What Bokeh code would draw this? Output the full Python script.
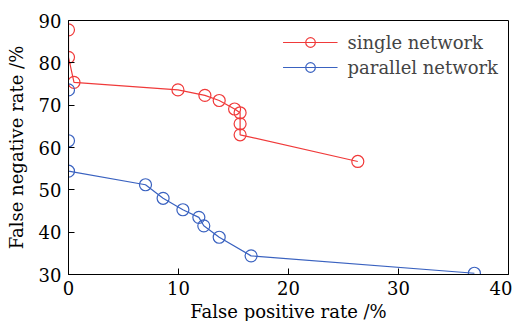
from bokeh.plotting import figure
from bokeh.models import Range1d, FixedTicker, Legend, LegendItem
from bokeh.embed import file_html
from bokeh.resources import INLINE

single_fpr = [0.0, 0.0, 0.5, 9.95, 12.4, 13.7, 15.1, 15.6, 15.6, 15.6, 26.3]
single_fnr = [87.8, 81.3, 75.4, 73.6, 72.3, 71.1, 69.1, 68.2, 65.6, 63.0, 56.7]
parallel_fpr = [0.0, 0.0, 0.0, 7.0, 8.6, 10.4, 11.85, 12.3, 13.7, 16.6, 36.9]
parallel_fnr = [73.6, 61.6, 54.4, 51.2, 48.0, 45.3, 43.5, 41.5, 38.8, 34.4, 30.3]
x_ticks = [0, 10, 20, 30, 40]
y_ticks = [30, 40, 50, 60, 70, 80, 90]

FONT = "DejaVu Serif"
FS = "18px"
RED = "#f03a3a"
BLUE = "#3a62c0"

p = figure(frame_width=440, frame_height=254, output_backend="svg", toolbar_location=None,
           x_range=Range1d(x_ticks[0], x_ticks[-1]), y_range=Range1d(y_ticks[0], y_ticks[-1]),
           min_border_left=68, min_border_right=4, min_border_top=20, min_border_bottom=10)
p.xgrid.visible = False
p.ygrid.visible = False
p.outline_line_color = "black"
p.outline_line_width = 1
p.background_fill_color = "white"
p.border_fill_color = "white"

for ax, ticks in ((p.xaxis, x_ticks), (p.yaxis, y_ticks)):
    ax.ticker = FixedTicker(ticks=ticks)
    ax.major_tick_in = 6
    ax.major_tick_out = 0
    ax.minor_tick_line_color = None
    ax.axis_line_color = "black"
    ax.major_tick_line_color = "black"
    ax.major_label_text_font = FONT
    ax.major_label_text_font_size = FS
    ax.major_label_text_color = "black"
    ax.axis_label_text_font = FONT
    ax.axis_label_text_font_size = FS
    ax.axis_label_text_font_style = "normal"
    ax.axis_label_text_color = "black"

p.xaxis.axis_label = "False positive rate /%"
p.yaxis.axis_label = "False negative rate /%"
p.xaxis.major_label_standoff = 6
p.yaxis.major_label_standoff = 7
p.xaxis.axis_label_standoff = 3
p.yaxis.axis_label_standoff = 9

l1 = p.line(single_fpr, single_fnr, color=RED, line_width=1.2)
c1 = p.scatter(single_fpr, single_fnr, marker="circle", size=12, fill_color=None,
               line_color=RED, line_width=1.2)
l2 = p.line(parallel_fpr, parallel_fnr, color=BLUE, line_width=1.2)
c2 = p.scatter(parallel_fpr, parallel_fnr, marker="circle", size=12, fill_color=None,
               line_color=BLUE, line_width=1.2)

legend = Legend(items=[LegendItem(label="single network", renderers=[l1, c1]),
                       LegendItem(label="parallel network", renderers=[l2, c2])],
                location="top_right")
legend.border_line_color = None
legend.background_fill_alpha = 0
legend.label_text_font = FONT
legend.label_text_font_size = FS
legend.glyph_width = 55
legend.glyph_height = 24
legend.spacing = 1
legend.label_standoff = 10
legend.margin = 10
legend.padding = 6
p.add_layout(legend)

open("out.html", "w").write(file_html(p, INLINE))
